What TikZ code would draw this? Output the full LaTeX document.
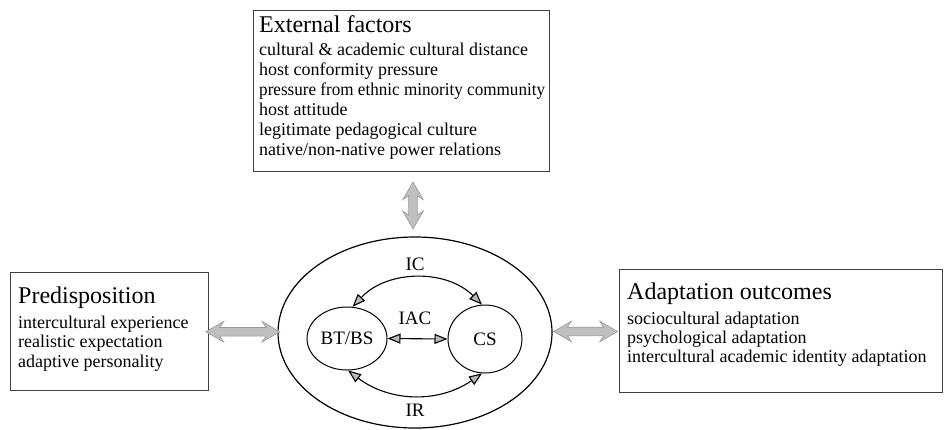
\documentclass[tikz,border=0pt]{standalone}
\usepackage{fontspec}
\setmainfont{Liberation Serif}
\usetikzlibrary{shapes.geometric,shapes.arrows,arrows.meta,calc}
\begin{document}
\begin{tikzpicture}[x=1pt,y=-1pt,
  box/.style={draw=black!75, line width=0.7pt, rectangle, inner sep=0pt},
  head/.style={font=\fontsize{24}{28}\selectfont, inner sep=0pt, anchor=base west},
  item/.style={font=\fontsize{18}{20}\selectfont, inner sep=0pt, anchor=base west},
  oval/.style={draw, ellipse, inner sep=0pt, line width=1pt, font=\fontsize{19}{22}\selectfont},
  lbl/.style={font=\fontsize{19}{22}\selectfont, inner sep=0pt},
  link/.style={line width=1.1pt,
    {Triangle[length=13pt,width=10pt,fill=gray!55]}-{Triangle[length=13pt,width=10pt,fill=gray!55]}},
  fatarrow/.style={double arrow, draw=gray!80, fill=gray!50, line width=0.6pt,
    inner sep=0pt, text height=8pt, text depth=0pt, text width=0pt,
    double arrow head extend=6pt, double arrow tip angle=60,
    double arrow head indent=4pt, minimum height=#1}
]
\useasboundingbox (0,0) rectangle (944,429);

% ---- framed boxes ----
\node[box, minimum width=296pt, minimum height=161pt] (ext) at (401,90.5) {};
\node[box, minimum width=198pt, minimum height=118pt] (pre) at (109,331) {};
\node[box, minimum width=323pt, minimum height=123pt] (out) at (780.5,330.5) {};

% External factors
\node[head] (ext-h) at (259,32) {External factors};
\foreach \t [count=\i] in {cultural \& academic cultural distance,
    host conformity pressure,
    \scalebox{0.95}[1]{pressure from ethnic minority community},
    host attitude,
    legitimate pedagogical culture,
    native/non-native power relations}
  \node[item] (ext-\i) at (259,{55+20*(\i-1)}) {\t};

% Predisposition
\node[head] (pre-h) at (18,303) {Predisposition};
\foreach \t [count=\i] in {intercultural experience,
    realistic expectation,
    adaptive personality}
  \node[item] (pre-\i) at (18,{328+19.5*(\i-1)}) {\t};

% Adaptation outcomes
\node[head] (out-h) at (627,299) {Adaptation outcomes};
\foreach \t [count=\i] in {sociocultural adaptation,
    psychological adaptation,
    intercultural academic identity adaptation}
  \node[item] (out-\i) at (627,{324+19*(\i-1)}) {\t};

% ---- central ellipses ----
\node[oval, line width=1.2pt, minimum width=274pt, minimum height=191pt] (outer) at (415,332.5) {};
\node[oval, minimum width=80pt, minimum height=63pt] (bt) at (347,338.5) {BT/BS};
\node[oval, minimum width=74pt, minimum height=68pt] (cs) at (485,339) {CS};

\node[lbl] (ic) at (415,264) {IC};
\node[lbl] (iac) at (415,318) {IAC};
\node[lbl] (ir) at (415,410) {IR};

\draw[link] (bt.80) to[bend left=46] (cs.95);
\draw[link] (bt.-88) to[bend right=36] (cs.-95);
\draw[link] (bt.east) -- (cs.west);

% ---- broad grey double arrows ----
\node[fatarrow=47pt, rotate=90] (a-top) at ($(outer.north)+(-2,-31)$) {};
\node[fatarrow=74pt] (a-left) at ($(pre.east)!0.5!(outer.west)$) {};
\node[fatarrow=64pt] (a-right) at ($(outer.east)!0.5!(out.west)$) {};
\end{tikzpicture}
\end{document}
